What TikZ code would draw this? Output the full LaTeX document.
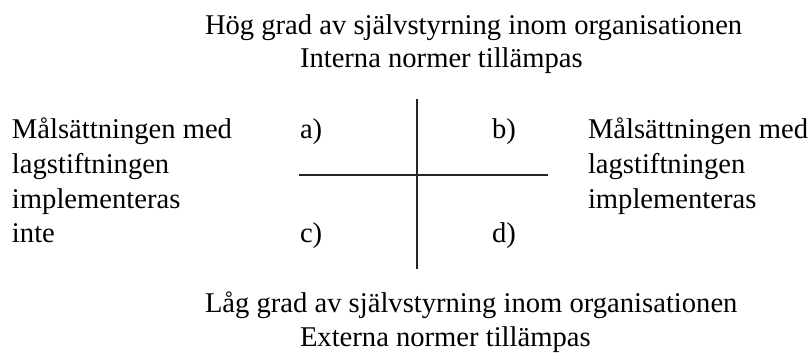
\documentclass[tikz,border=0pt]{standalone}
\usepackage{fontspec}
\setmainfont{Liberation Serif}
\begin{document}
\begin{tikzpicture}[x=1pt,y=-1pt,
  txt/.style={anchor=base west, inner sep=0pt, outer sep=0pt, font=\fontsize{28.6}{34}\selectfont, text=black},
  rule/.style={line width=1.3pt, draw=black!85}]
\useasboundingbox (0,0) rectangle (809,353);
% top heading
\node[txt] (top1) at (205,35) {Hög grad av självstyrning inom organisationen};
\node[txt] (top2) at (300,68) {Interna normer tillämpas};
% left column
\node[txt] (l1) at (12,138) {Målsättningen med};
\node[txt] (l2) at (12,173) {lagstiftningen};
\node[txt] (l3) at (12,208) {implementeras};
\node[txt] (l4) at (12,242) {inte};
% right column
\node[txt] (r1) at (588,138) {Målsättningen med};
\node[txt] (r2) at (588,173) {lagstiftningen};
\node[txt] (r3) at (588,208) {implementeras};
% quadrant labels
\node[txt] (qa) at (300,138) {a)};
\node[txt] (qb) at (492,138) {b)};
\node[txt] (qc) at (300,242) {c)};
\node[txt] (qd) at (492,242) {d)};
% bottom heading
\node[txt] (bot1) at (205,312) {Låg grad av självstyrning inom organisationen};
\node[txt] (bot2) at (300,346) {Externa normer tillämpas};
% axes
\coordinate (vt) at (417,99);
\coordinate (vb) at (417,269);
\coordinate (hl) at (299,175);
\coordinate (hr) at (548,175);
\draw[rule] (vt) -- (vb);
\draw[rule] (hl) -- (hr);
\end{tikzpicture}
\end{document}
